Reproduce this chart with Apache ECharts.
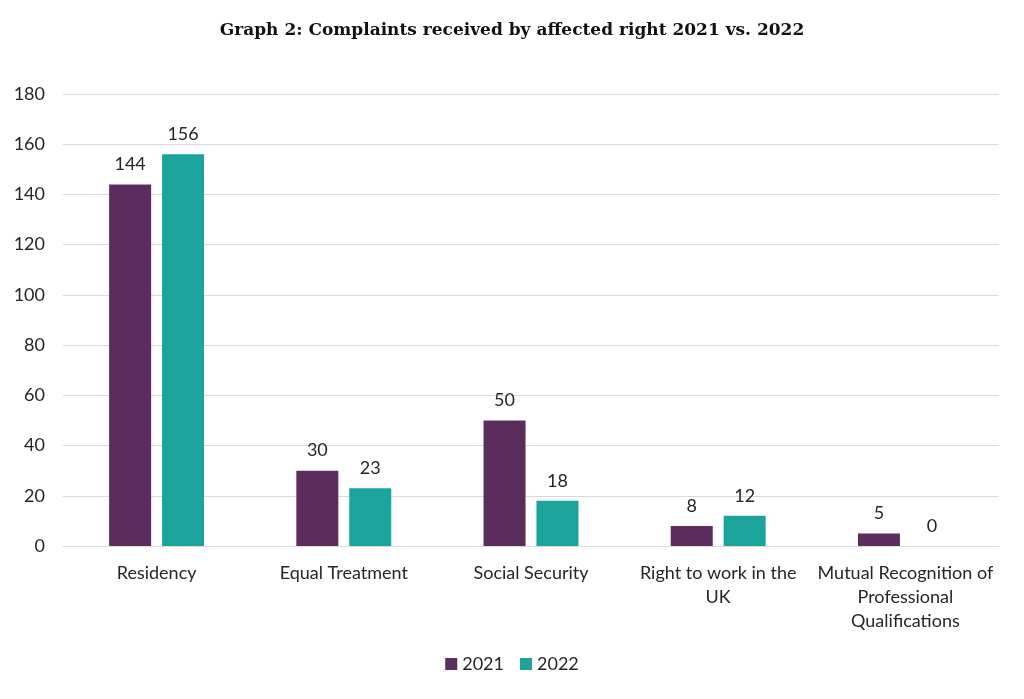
<!DOCTYPE html>
<html>
<head>
<meta charset="utf-8">
<script src="https://cdn.jsdelivr.net/npm/echarts@6/dist/echarts.min.js"></script>
<style>
html,body{margin:0;padding:0;background:#fff;}
#main{width:1024px;height:699px;}
</style>
</head>
<body>
<div id="main"></div>
<script>
const categories = ['Residency', 'Equal Treatment', 'Social Security', 'Right to work in the\nUK', 'Mutual Recognition of\nProfessional\nQualifications'];
const seriesNames = ['2021', '2022'];
const values2021 = [144, 30, 50, 8, 5];
const values2022 = [156, 23, 18, 12, 0];
const yTicks = [0, 20, 40, 60, 80, 100, 120, 140, 160, 180];

const chart = echarts.init(document.getElementById('main'));
const txt = '#262626';
const font = 'Lato';
const labelStyle = {show: true, position: 'top', distance: 11, color: txt, fontFamily: font, fontSize: 18};
chart.setOption({
  animation: false,
  title: {
    text: 'Graph 2: Complaints received by affected right 2021 vs. 2022',
    left: 'center', top: 17,
    textStyle: {fontFamily: 'DejaVu Serif', fontWeight: 'bold', fontSize: 17, color: '#111'}
  },
  legend: {
    data: seriesNames, bottom: 21, left: 'center',
    itemWidth: 12, itemHeight: 12, itemGap: 16, icon: 'rect',
    textStyle: {fontFamily: font, fontSize: 18, color: txt}
  },
  grid: {left: 63, right: 25, top: 94, bottom: 153},
  xAxis: {
    type: 'category', data: categories,
    axisLine: {lineStyle: {color: '#d9d9d9'}},
    axisTick: {show: false},
    axisLabel: {interval: 0, margin: 15, fontFamily: font, fontSize: 18, color: txt, lineHeight: 24}
  },
  yAxis: {
    type: 'value', min: yTicks[0], max: yTicks[yTicks.length - 1], interval: 20,
    axisLine: {show: false}, axisTick: {show: false},
    axisLabel: {margin: 18, fontFamily: font, fontSize: 18, color: txt},
    splitLine: {lineStyle: {color: '#d9d9d9'}}
  },
  series: [
    {name: seriesNames[0], type: 'bar', data: values2021, barWidth: 42, barGap: '26%',
     itemStyle: {color: '#5a2d5d'}, label: labelStyle},
    {name: seriesNames[1], type: 'bar', data: values2022, barWidth: 42,
     itemStyle: {color: '#1ca39b'}, label: labelStyle}
  ]
});
</script>
</body>
</html>
